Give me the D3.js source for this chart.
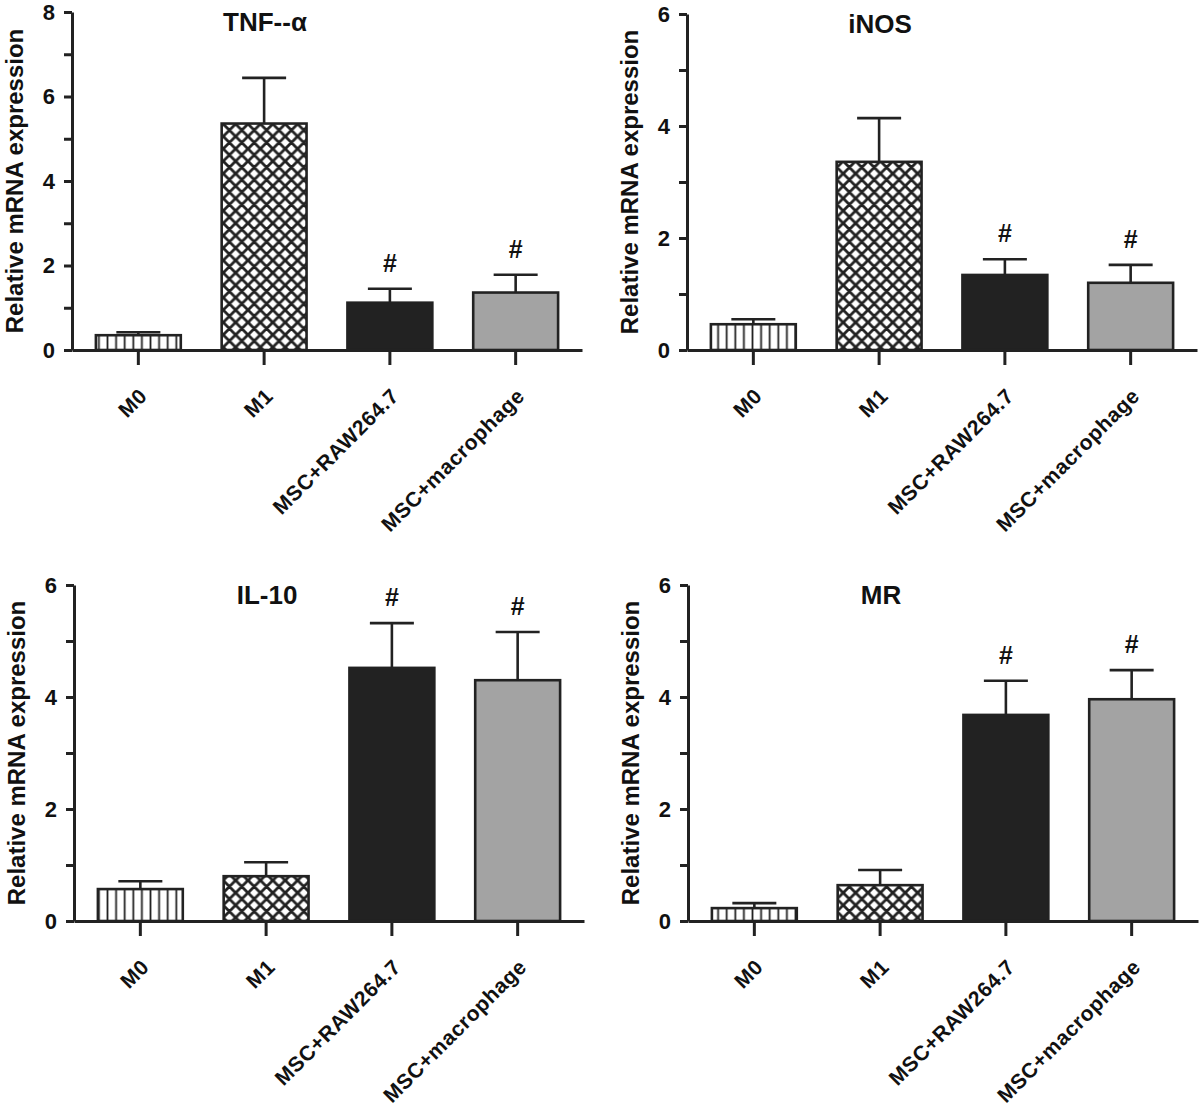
<!DOCTYPE html>
<html>
<head>
<meta charset="utf-8">
<script src="https://cdn.jsdelivr.net/npm/d3@7"></script>
<style>
  html, body { margin: 0; padding: 0; background: #fff; }
  svg { display: block; }
  text { font-family: "Liberation Sans", Arial, sans-serif; font-weight: bold; fill: #111; }
</style>
</head>
<body>
<svg id="chart" width="1200" height="1108"></svg>
<script>
// ---------- data ----------
const categories = ["M0", "M1", "MSC+RAW264.7", "MSC+macrophage"];
const panelTitles = ["TNF--α", "iNOS", "IL-10", "MR"];
const yMax = [8, 6, 6, 6];
const yLabelTicks = [[0, 2, 4, 6, 8], [0, 2, 4, 6], [0, 2, 4, 6], [0, 2, 4, 6]];

const tnfMean  = [0.35, 5.36, 1.12, 1.36];
const tnfErr   = [0.07, 1.08, 0.33, 0.42];
const inosMean = [0.46, 3.36, 1.34, 1.20];
const inosErr  = [0.09, 0.78, 0.28, 0.32];
const il10Mean = [0.57, 0.80, 4.52, 4.30];
const il10Err  = [0.14, 0.25, 0.80, 0.86];
const mrMean   = [0.23, 0.64, 3.68, 3.96];
const mrErr    = [0.09, 0.27, 0.61, 0.52];
const significant = [false, false, true, true];   // "#" markers

const means = [tnfMean, inosMean, il10Mean, mrMean];
const errs  = [tnfErr, inosErr, il10Err, mrErr];

// ---------- layout ----------
const panels = [
  { ax: 72,  y0: 350, yTop: 12 },
  { ax: 687, y0: 350, yTop: 14 },
  { ax: 74,  y0: 921, yTop: 585 },
  { ax: 688, y0: 921, yTop: 585 }
];
const plotW = 510;
const ink = "#222";
const fills = ["url(#stripes)", "url(#cross)", "#222222", "#a3a3a3"];

const svg = d3.select("#chart");
const defs = svg.append("defs");

// vertical stripes
const ps = defs.append("pattern").attr("id", "stripes")
  .attr("patternUnits", "userSpaceOnUse").attr("width", 8.6).attr("height", 10);
ps.append("rect").attr("width", 8.6).attr("height", 10).attr("fill", "#fff");
ps.append("line").attr("x1", 4.3).attr("x2", 4.3).attr("y1", 0).attr("y2", 10)
  .attr("stroke", ink).attr("stroke-width", 1.8);

// diagonal cross-hatch
const pc = defs.append("pattern").attr("id", "cross")
  .attr("patternUnits", "userSpaceOnUse").attr("width", 12.4).attr("height", 12.4);
pc.append("rect").attr("width", 12.4).attr("height", 12.4).attr("fill", "#fff");
pc.append("path").attr("d", "M-1,-1 L13.4,13.4 M-1,13.4 L13.4,-1 M-7.2,5.2 L5.2,-7.2 M7.2,19.6 L19.6,7.2 M-7.2,7.2 L5.2,19.6 M7.2,-5.2 L19.6,7.2")
  .attr("stroke", ink).attr("stroke-width", 2.8).attr("fill", "none");

panels.forEach((p, i) => {
  const g = svg.append("g");
  const x = d3.scaleBand().domain(categories)
    .range([p.ax, p.ax + plotW]).paddingInner(0.325).paddingOuter(0.19);
  const y = d3.scaleLinear().domain([0, yMax[i]]).range([p.y0, p.yTop]);

  // bars
  g.selectAll("rect.bar").data(categories).join("rect")
    .attr("class", "bar")
    .attr("x", d => x(d))
    .attr("width", x.bandwidth())
    .attr("y", (d, j) => y(means[i][j]))
    .attr("height", (d, j) => p.y0 - y(means[i][j]))
    .attr("fill", (d, j) => fills[j])
    .attr("stroke", ink).attr("stroke-width", 2.6);

  // error bars (upper only)
  const cap = 22;
  categories.forEach((c, j) => {
    const cx = x(c) + x.bandwidth() / 2;
    const top = y(means[i][j] + errs[i][j]);
    g.append("line").attr("x1", cx).attr("x2", cx)
      .attr("y1", y(means[i][j])).attr("y2", top)
      .attr("stroke", ink).attr("stroke-width", 2.6);
    g.append("line").attr("x1", cx - cap).attr("x2", cx + cap)
      .attr("y1", top).attr("y2", top)
      .attr("stroke", ink).attr("stroke-width", 2.6);
    if (significant[j]) {
      g.append("text").attr("x", cx).attr("y", top - 26)
        .attr("text-anchor", "middle").attr("dominant-baseline", "central")
        .style("font-size", "25px").text("#");
    }
  });

  // y axis
  const yAxis = d3.axisLeft(y).tickValues(d3.range(0, yMax[i] + 1))
    .tickSize(8).tickSizeOuter(0).tickPadding(9)
    .tickFormat(d => yLabelTicks[i].includes(d) ? d : "");
  const ya = g.append("g").attr("transform", `translate(${p.ax},0)`).call(yAxis);
  ya.select(".domain").attr("stroke", ink).attr("stroke-width", 3);
  ya.selectAll(".tick line").attr("stroke", ink).attr("stroke-width", 3);
  ya.selectAll(".tick text").style("font-size", "22px").attr("fill", "#111")
    .style("font-family", "'Liberation Sans', Arial, sans-serif").style("font-weight", "bold");

  // x axis
  const xAxis = d3.axisBottom(x).tickSize(15).tickSizeOuter(0).tickFormat("");
  const xa = g.append("g").attr("transform", `translate(0,${p.y0})`).call(xAxis);
  xa.select(".domain").attr("stroke", ink).attr("stroke-width", 3);
  xa.selectAll(".tick line").attr("stroke", ink).attr("stroke-width", 3);

  // x labels rotated
  categories.forEach(c => {
    const cx = x(c) + x.bandwidth() / 2;
    g.append("text")
      .attr("transform", `translate(${cx + 5},${p.y0 + 42}) rotate(-45)`)
      .attr("text-anchor", "end").attr("dy", "0.35em")
      .style("font-size", "21px").style("letter-spacing", "0.6px").text(c);
  });

  // y title
  g.append("text")
    .attr("transform", `translate(${p.ax - 58},${(p.y0 + p.yTop) / 2}) rotate(-90)`)
    .attr("text-anchor", "middle").attr("dominant-baseline", "central")
    .style("font-size", "24px").text("Relative mRNA expression");

  // panel title
  g.append("text").attr("x", p.ax + 193).attr("y", p.yTop + 10)
    .attr("text-anchor", "middle").attr("dominant-baseline", "central")
    .style("font-size", "26px").text(panelTitles[i]);
});
</script>
</body>
</html>
